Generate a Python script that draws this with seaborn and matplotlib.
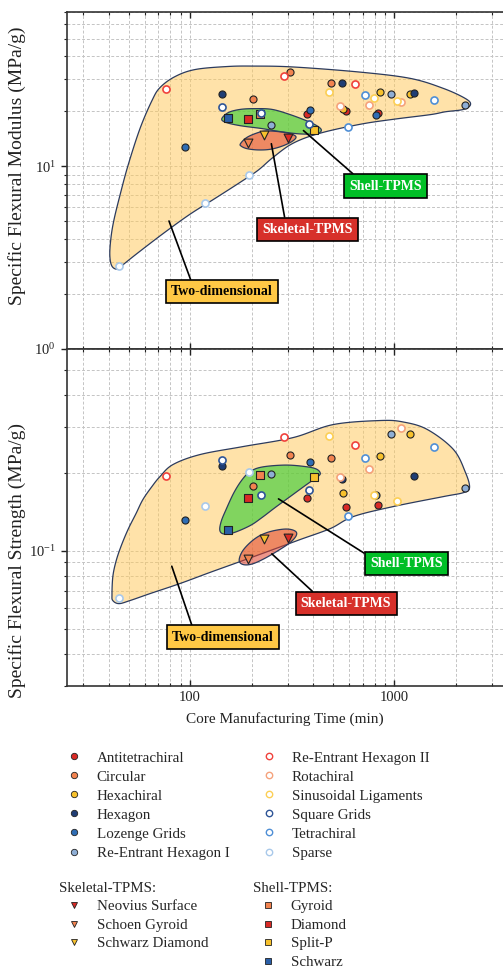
import numpy as np
import pandas as pd
import matplotlib
matplotlib.use("Agg")
import matplotlib.pyplot as plt
from matplotlib.colors import to_rgba
from matplotlib.lines import Line2D
from matplotlib.ticker import LogLocator, FixedLocator, FuncFormatter, NullFormatter
import seaborn as sns

# ---------------------------------------------------------------- data
# 2D lattice cores: manufacturing time (min), specific modulus / strength (MPa/g)
lattice_type = [
    "Antitetrachiral", "Antitetrachiral", "Antitetrachiral",
    "Circular", "Circular", "Circular",
    "Hexachiral", "Hexachiral", "Hexachiral",
    "Hexagon", "Hexagon", "Hexagon",
    "Lozenge Grids", "Lozenge Grids", "Lozenge Grids",
    "Re-Entrant Hexagon I", "Re-Entrant Hexagon I", "Re-Entrant Hexagon I",
    "Re-Entrant Hexagon II", "Re-Entrant Hexagon II", "Re-Entrant Hexagon II",
    "Rotachiral", "Rotachiral", "Rotachiral",
    "Sinusoidal Ligaments", "Sinusoidal Ligaments", "Sinusoidal Ligaments",
    "Square Grids", "Square Grids", "Square Grids",
    "Tetrachiral", "Tetrachiral", "Tetrachiral",
    "Sparse", "Sparse", "Sparse",
]
lattice_time = [373, 580, 832, 310, 488, 203, 848, 1186, 560, 555, 143, 1245,
                387, 813, 95, 963, 2213, 248, 76, 289, 641, 1082, 542, 748,
                479, 795, 1025, 143, 223, 383, 593, 715, 1570, 45, 119, 194]
lattice_modulus = [19.4, 20.2, 19.6, 33.0, 28.7, 23.4, 25.4, 24.8, 20.6, 28.7, 24.8, 25.2,
                   20.4, 19.2, 12.8, 24.8, 21.7, 16.8, 26.6, 31.4, 28.2, 22.4, 21.5, 21.6,
                   25.4, 23.8, 22.9, 21.2, 19.6, 17.0, 16.5, 24.6, 23.2, 2.84, 6.3, 9.0]
lattice_strength = [0.159, 0.147, 0.150, 0.234, 0.228, 0.177, 0.232, 0.282, 0.167, 0.189, 0.212, 0.194,
                    0.220, 0.164, 0.131, 0.281, 0.175, 0.197, 0.194, 0.274, 0.255, 0.297, 0.192, 0.206,
                    0.278, 0.164, 0.156, 0.223, 0.164, 0.172, 0.136, 0.228, 0.251, 0.0655, 0.148, 0.2005]

# Skeletal-TPMS cores
skeletal_type = ["Neovius Surface", "Schoen Gyroid", "Schwarz Diamond"]
skeletal_time = [301, 192, 231]
skeletal_modulus = [14.3, 13.4, 14.8]
skeletal_strength = [0.112, 0.093, 0.111]

# Shell-TPMS cores
shell_type = ["Gyroid", "Diamond", "Split-P", "Schwarz"]
shell_time = [219, 192, 405, 153]
shell_modulus = [19.4, 18.2, 15.9, 18.3]
shell_strength = [0.195, 0.160, 0.193, 0.120]

# Envelopes of each core family (time, modulus)
env2d_mod_t = [71.3, 84.4, 106, 152, 204, 320, 681, 1198, 1739, 2228, 2358, 2179, 1778, 1502, 989,
               681, 434, 320, 255, 215, 176, 133, 100, 75.4, 56.9, 48.0, 44.4, 41.5, 40.5, 41.0,
               42.4, 45.4, 49.7, 56.9, 65.1]
env2d_mod_v = [27.0, 31.0, 33.9, 35.2, 35.4, 35.0, 32.8, 30.3, 26.7, 23.5, 21.8, 20.5, 19.9, 19.2, 18.1,
               17.0, 15.2, 13.4, 11.2, 9.51, 8.18, 6.69, 5.47, 4.36, 3.43, 2.95, 2.74, 2.84, 3.26, 4.04,
               5.07, 6.94, 10.1, 16.1, 22.9]
envsh_mod_t = [143, 154, 176, 208, 252, 309, 379, 424, 439, 415, 346, 276, 225, 176, 150]
envsh_mod_v = [18.2, 19.7, 20.5, 20.7, 20.5, 19.2, 17.6, 16.5, 15.7, 15.1, 15.05, 15.5, 16.1, 16.7, 17.4]
envsk_mod_t = [176.5, 188, 208, 233, 270, 309, 330, 316, 282, 247, 215, 190, 178]
envsk_mod_v = [13.3, 14.3, 15.1, 15.6, 15.5, 15.1, 14.5, 13.7, 12.9, 12.4, 12.3, 12.5, 12.9]

# Envelopes of each core family (time, strength)
env2d_str_t = [41.5, 41.9, 43.4, 45.9, 49.7, 54.4, 58.8, 65.1, 71.3, 82.5, 112, 182, 320, 502, 854,
               1107, 1451, 1946, 2228, 2332, 2179, 1739, 989, 630, 486, 346, 247, 176, 125, 89.3,
               63.7, 50.8, 44.9, 41.9]
env2d_str_v = [0.0676, 0.0793, 0.0907, 0.1036, 0.1205, 0.1389, 0.1574, 0.1767, 0.1931, 0.2148, 0.2348,
               0.2521, 0.2731, 0.3065, 0.3177, 0.3135, 0.2932, 0.2455, 0.2001, 0.1750, 0.1674, 0.1616,
               0.1479, 0.1353, 0.1216, 0.1103, 0.1000, 0.0907, 0.0823, 0.0746, 0.0682, 0.0641,
               0.0624, 0.0641]
envsh_str_t = [140, 147, 164, 197, 225, 261, 309, 366, 415, 434, 415, 366, 292, 225, 197, 180, 164, 150, 142]
envsh_str_v = [0.1194, 0.1158, 0.1173, 0.1249, 0.1341, 0.1466, 0.1616, 0.1782, 0.1913, 0.1983, 0.2064,
               0.2110, 0.2138, 0.2101, 0.2018, 0.1879, 0.1674, 0.1439, 0.1294]
envsk_str_t = [174, 180, 197, 220, 252, 296, 327, 331, 309, 270, 231, 201, 182]
envsk_str_v = [0.0915, 0.0991, 0.1074, 0.1143, 0.1189, 0.1211, 0.1189, 0.1143, 0.1074, 0.1, 0.0931,
               0.0887, 0.0883]

# ---------------------------------------------------------------- styles
RED, ORANGE, GOLD = "#d92a25", "#f2834f", "#f7c12c"
NAVY, BLUE, STEEL = "#1f3d74", "#2f6db4", "#8eaed5"
lattice_style = {
    "Antitetrachiral": (RED, True),
    "Circular": (ORANGE, True),
    "Hexachiral": (GOLD, True),
    "Hexagon": (NAVY, True),
    "Lozenge Grids": (BLUE, True),
    "Re-Entrant Hexagon I": (STEEL, True),
    "Re-Entrant Hexagon II": ("#f0423c", False),
    "Rotachiral": ("#f5a27c", False),
    "Sinusoidal Ligaments": ("#fccf55", False),
    "Square Grids": ("#2f5597", False),
    "Tetrachiral": ("#4f8fd6", False),
    "Sparse": ("#a9c9ea", False),
}
skeletal_color = {"Neovius Surface": RED, "Schoen Gyroid": ORANGE, "Schwarz Diamond": GOLD}
shell_color = {"Gyroid": ORANGE, "Diamond": RED, "Split-P": GOLD, "Schwarz": "#2a5fa8"}

lattice = pd.DataFrame({"type": lattice_type, "time": lattice_time,
                        "modulus": lattice_modulus, "strength": lattice_strength})
skeletal = pd.DataFrame({"type": skeletal_type, "time": skeletal_time,
                         "modulus": skeletal_modulus, "strength": skeletal_strength})
shell = pd.DataFrame({"type": shell_type, "time": shell_time,
                      "modulus": shell_modulus, "strength": shell_strength})

sns.set_theme(style="ticks")
plt.rcParams["font.family"] = ["Liberation Serif", "DejaVu Serif"]
plt.rcParams["mathtext.fontset"] = "custom"
plt.rcParams["mathtext.rm"] = "Liberation Serif"
plt.rcParams["mathtext.it"] = "Liberation Serif:italic"
plt.rcParams["mathtext.bf"] = "Liberation Serif:bold"

W, H = 503, 971
fig = plt.figure(figsize=(W / 100, H / 100), dpi=100)


def rect(l, t, r, b):
    return [l / W, 1 - b / H, (r - l) / W, (b - t) / H]


ax1 = fig.add_axes(rect(67, 12, 503, 349))
ax2 = fig.add_axes(rect(67, 349, 503, 686))


def smooth_closed(xs, ys, n=24):
    """Closed Catmull-Rom curve through the given points, built in log-log space."""
    P = np.column_stack([np.log10(xs), np.log10(ys)])
    m = len(P)
    t = np.linspace(0, 1, n, endpoint=False)[:, None]
    segs = []
    for i in range(m):
        p0, p1, p2, p3 = P[(i - 1) % m], P[i], P[(i + 1) % m], P[(i + 2) % m]
        segs.append(0.5 * (2 * p1 + (-p0 + p2) * t + (2 * p0 - 5 * p1 + 4 * p2 - p3) * t ** 2
                           + (-p0 + 3 * p1 - 3 * p2 + p3) * t ** 3))
    Q = np.vstack(segs)
    return 10 ** Q[:, 0], 10 ** Q[:, 1]


def envelope(ax, xs, ys, color, alpha, z):
    sx, sy = smooth_closed(xs, ys)
    ax.fill(sx, sy, facecolor=to_rgba(color, alpha), edgecolor="#2c3b5e", lw=0.9, zorder=z)


def tag(ax, text, xy, xytext, fc, tc, rel):
    ax.annotate(text, xy=xy, xytext=xytext, ha="center", va="center", fontsize=10,
                fontweight="bold", color=tc, zorder=8,
                bbox=dict(boxstyle="square,pad=0.38", fc=fc, ec="black", lw=1.2),
                arrowprops=dict(arrowstyle="-", color="black", lw=1.2, relpos=rel,
                                shrinkA=0, shrinkB=0))


def draw_panel(ax, col, envs, tags):
    (e2t, e2v), (est, esv), (ekt, ekv) = envs
    envelope(ax, e2t, e2v, "#ffc95a", 0.52, 1.0)
    envelope(ax, est, esv, "#2ecc2e", 0.6, 1.2)
    envelope(ax, ekt, ekv, "#e0402a", 0.55, 1.3)

    for name, c in skeletal_color.items():
        sns.scatterplot(data=skeletal[skeletal["type"] == name], x="time", y=col, ax=ax,
                        marker="v", s=40, color=c, edgecolor="#222222", linewidth=0.8,
                        legend=False, zorder=4)
    for name, c in shell_color.items():
        sns.scatterplot(data=shell[shell["type"] == name], x="time", y=col, ax=ax,
                        marker="s", s=26, color=c, edgecolor="#222222", linewidth=0.8,
                        legend=False, zorder=4)
    for name, (c, filled) in lattice_style.items():
        sub = lattice[lattice["type"] == name]
        if filled:
            sns.scatterplot(data=sub, x="time", y=col, ax=ax, marker="o", s=26, color=c,
                            edgecolor="#222222", linewidth=0.8, legend=False, zorder=5)
        else:
            sns.scatterplot(data=sub, x="time", y=col, ax=ax, marker="o", s=26, color="white",
                            edgecolor=c, linewidth=1.2, legend=False, zorder=5)
    for t in tags:
        tag(ax, *t)


draw_panel(ax1, "modulus",
           [(env2d_mod_t, env2d_mod_v), (envsh_mod_t, envsh_mod_v), (envsk_mod_t, envsk_mod_v)],
           [("Shell-TPMS", (359, 15.7), (903, 7.80), "#00bf26", "white", (0.145, 1.0)),
            ("Skeletal-TPMS", (250, 13.3), (375, 4.52), "#d7302a", "white", (0.26, 1.0)),
            ("Two-dimensional", (78.9, 5.02), (143, 2.06), "#ffc845", "black", (0.214, 1.0))])
draw_panel(ax2, "strength",
           [(env2d_str_t, env2d_str_v), (envsh_str_t, envsh_str_v), (envsk_str_t, envsk_str_v)],
           [("Shell-TPMS", (271, 0.1583), (1142, 0.0893), "#00bf26", "white", (0.0, 1.0)),
            ("Skeletal-TPMS", (251.5, 0.0971), (580, 0.0624), "#d7302a", "white", (0.197, 1.0)),
            ("Two-dimensional", (81.4, 0.0870), (145, 0.0463), "#ffc845", "black", (0.212, 1.0))])

# ---------------------------------------------------------------- axes
for ax, ylim in ((ax1, (1, 70)), (ax2, (0.03, 0.6))):
    ax.set_xscale("log")
    ax.set_yscale("log")
    ax.set_xlim(25, 3400)
    ax.set_ylim(*ylim)
    ax.xaxis.set_major_locator(FixedLocator([100, 1000]))
    ax.xaxis.set_major_formatter(FuncFormatter(lambda v, p: f"{v:g}"))
    ax.xaxis.set_minor_locator(LogLocator(base=10, subs=np.arange(2, 10)))
    ax.xaxis.set_minor_formatter(NullFormatter())
    ax.yaxis.set_minor_locator(LogLocator(base=10, subs=np.arange(2, 10)))
    ax.yaxis.set_minor_formatter(NullFormatter())
    ax.set_axisbelow(True)
    ax.grid(which="both", ls=(0, (3, 2)), color="#c4c4c4", lw=0.7)
    ax.spines["right"].set_visible(False)
    for s in ("left", "top", "bottom"):
        ax.spines[s].set_color("#333333")
        ax.spines[s].set_linewidth(1.2)
    ax.tick_params(axis="x", which="both", direction="in", top=True, bottom=True,
                   labelsize=10.5, colors="#222222")
    ax.tick_params(axis="x", which="major", length=4.5, width=1.0)
    ax.tick_params(axis="x", which="minor", length=2.5, width=0.8)
    ax.tick_params(axis="y", which="both", direction="out", left=True, right=False,
                   labelsize=10.5, colors="#222222")
    ax.tick_params(axis="y", which="major", length=4.5, width=1.0)
    ax.tick_params(axis="y", which="minor", length=2.5, width=0.8)
    ax.set_xlabel("")

ax1.tick_params(axis="x", labelbottom=False)
ax1.set_ylabel("Specific Flexural Modulus (MPa/g)", fontsize=14, color="#222222")
ax2.set_ylabel("Specific Flexural Strength (MPa/g)", fontsize=14, color="#222222")
ax1.yaxis.set_label_coords((26 - 67) / 436, (349 - 166) / 337)
ax2.yaxis.set_label_coords((26 - 67) / 436, (686 - 561) / 337)
ax2.set_xlabel("Core Manufacturing Time (min)", fontsize=11, color="#222222", labelpad=6)

# ---------------------------------------------------------------- legends
def mk(marker, fc, ec, ms, mew):
    return Line2D([], [], ls="none", marker=marker, markersize=ms, markerfacecolor=fc,
                  markeredgecolor=ec, markeredgewidth=mew)


FS = 10.8
names = list(lattice_style)
filled_h = [mk("o", lattice_style[n][0], "#222222", 4.6, 0.6) for n in names[:6]]
hollow_h = [mk("o", "white", lattice_style[n][0], 4.6, 1.0) for n in names[6:]]
leg_kw = dict(loc="upper left", frameon=False, fontsize=FS, borderpad=0, borderaxespad=0,
              handleheight=0.7)

fig.legend(filled_h, names[:6], bbox_to_anchor=(66.5 / W, 1 - 751 / H), labelspacing=0.37,
           handlelength=1.0, handletextpad=1.01, **leg_kw)
fig.legend(hollow_h, names[6:], bbox_to_anchor=(261.5 / W, 1 - 751 / H), labelspacing=0.37,
           handlelength=1.0, handletextpad=1.01, **leg_kw)
fig.legend([mk("v", skeletal_color[n], "#222222", 5, 0.6) for n in skeletal_type], skeletal_type,
           bbox_to_anchor=(59 / W, 1 - 882 / H), title="Skeletal-TPMS:", title_fontsize=FS,
           alignment="left", labelspacing=0.33, handlelength=2.0, handletextpad=0.51, **leg_kw)
fig.legend([mk("s", shell_color[n], "#222222", 4.3, 0.6) for n in shell_type], shell_type,
           bbox_to_anchor=(253 / W, 1 - 882 / H), title="Shell-TPMS:", title_fontsize=FS,
           alignment="left", labelspacing=0.33, handlelength=2.0, handletextpad=0.51, **leg_kw)

fig.savefig("out.png", dpi=100)
